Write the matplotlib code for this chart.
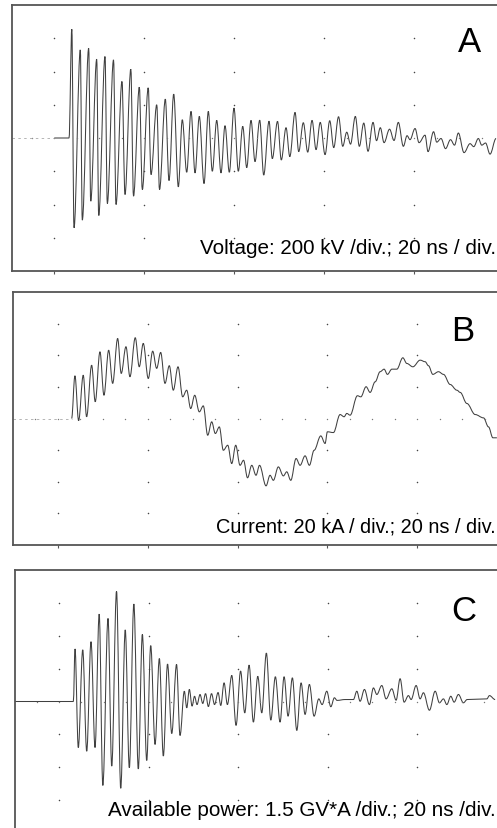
import matplotlib
matplotlib.use("Agg")
import matplotlib.pyplot as plt
from matplotlib.path import Path
from matplotlib.patches import PathPatch
import numpy as np

plt.rcParams['font.family'] = ['Liberation Sans', 'DejaVu Sans']

# Panel A: voltage trace (turning points), time in ns, voltage in kV
a_time_ns = [0.0, 3.27, 3.89, 4.38, 5.78, 6.22, 7.64, 8.09, 9.42, 9.87, 11.27, 11.78, 13.16, 13.71,
             15.04, 15.71, 17.0, 17.6, 18.89, 19.56, 20.87, 21.49, 22.76, 23.38, 24.67, 25.49,
             26.53, 27.56, 28.44, 29.42, 30.38, 31.27, 32.22, 33.27, 34.22, 35.11, 36.09, 37.04,
             37.93, 38.89, 39.93, 40.89, 41.87, 42.76, 43.71, 44.6, 45.64, 46.53, 47.71, 48.44,
             49.6, 50.44, 51.49, 52.33, 53.49, 54.31, 55.33, 56.31, 57.27, 58.16, 59.09, 60.16,
             61.2, 62.09, 63.16, 64.09, 64.98, 65.82, 66.89, 67.78, 68.76, 69.71, 70.82, 71.6,
             72.44, 73.27, 74.49, 75.49, 76.44, 77.56, 78.38, 79.04, 80.16, 81.04, 82.38, 83.04,
             84.27, 84.98, 85.93, 86.93, 88.04, 88.93, 89.78, 91.04, 92.38, 93.2, 94.22, 94.98,
             95.82, 96.82, 98.16]
a_voltage_kv = [0, 0, 654, -540, 530, -494, 540, -380, 474, -466, 490, -394, 470, -400,
                340, -340, 414, -350, 306, -310, 302, -220, 200, -310, 234, -256,
                264, -294, 110, -206, 160, -210, 130, -274, 160, -200, 106, -210,
                74, -206, 180, -200, 70, -178, 106, -142, 107, -223, 101, -124,
                100, -132, 62, -112, 154, -82, 92, -85, 106, -70, 94, -100,
                104, -58, 128, -50, 35, -37, 130, -50, 90, -80, 94, -16,
                62, -28, 53, -15, 94, -50, 14, -10, 57, -28, 17, -82,
                38, -25, -3, -64, -10, -43, 30, -88, -34, -52, -3, -43,
                -30, -97, -3]

# Panel B: current trace, kA
b_time_ns = [3.05, 3.79, 4.61, 5.64, 6.39, 7.51, 8.31, 9.36, 10.25, 11.3, 12.19, 13.3, 14.1,
             15.15, 16.04, 17.22, 18.11, 19.0, 20.12, 21.1, 21.99, 22.88, 23.84, 24.8, 25.69,
             26.74, 27.78, 28.67, 29.57, 30.46, 31.48, 32.37, 33.35, 34.24, 35.05, 35.94, 36.83,
             37.81, 38.7, 39.59, 40.55, 41.33, 42.22, 43.16, 44.11, 44.89, 46.34, 47.23, 47.97,
             49.08, 50.2, 50.95, 51.85, 53.03, 53.92, 55.03, 55.99, 57.04, 58.53, 59.49, 60.0,
             61.34, 62.83, 63.72, 64.32, 65.06, 66.69, 67.44, 68.62, 69.51, 70.63, 71.74, 72.63,
             73.37, 74.35, 75.46, 76.8, 77.69, 79.03, 80.65, 81.77, 82.5, 83.48, 84.73, 85.85,
             87.34, 88.83, 89.57, 91.06, 92.91, 94.76, 95.87, 96.85, 97.74]
b_current_ka = [0, 27.0, -1.3, 27.4, 1.1, 33.7, 10.6, 42.2, 14.7, 43.2, 22.2, 50.6, 28.5,
                45.4, 26.4, 51.1, 32.7, 47.5, 25.3, 42.6, 31.7, 41.8, 22.2, 33.4, 17.9,
                32.7, 13.7, 17.9, 6.3, 14.7, 4.2, 8.0, -10.6, -2.1, -9.5, -5.3, -20.1,
                -16.9, -28.5, -16.9, -29.6, -26.4, -37.5, -29.6, -35.9, -29.6, -42.6, -35.9, -39.1,
                -30.6, -36.3, -33.7, -39.1, -25.3, -29.6, -23.6, -29.6, -20.1, -11.0, -15.8, -8.4,
                -8.9, 2.5, 1.1, 3.2, 2.1, 14.4, 13.7, 20.1, 16.5, 23.2, 29.6, 31.2,
                27.9, 31.2, 31.2, 38.4, 34.8, 32.7, 36.9, 35.9, 33.4, 27.9, 29.6, 27.9,
                21.5, 17.9, 16.5, 9.5, 2.5, 0.4, -5.3, -12.2, -12.2]

# Panel C: available power, GV*A
c_time_ns = [-9.9, 3.2, 3.58, 4.31, 5.30, 6.19, 7.15, 8.05, 8.98, 9.79, 10.95, 11.78, 12.85,
             13.79, 14.8, 15.71, 16.72, 17.72, 18.62, 19.6, 20.49, 21.46, 22.42, 23.31, 24.25,
             25.19, 26.26, 27.04, 28.0, 28.54, 29.12, 29.73, 30.28, 30.84, 31.51, 32.12, 32.74,
             33.37, 34.08, 34.75, 35.54, 36.14, 36.88, 37.62, 38.6, 39.56, 40.57, 41.5, 42.47,
             43.43, 44.41, 45.3, 46.33, 47.32, 48.34, 49.39, 50.29, 51.18, 52.14, 53.13, 54.09,
             54.98, 55.94, 56.99, 58.04, 58.78, 59.83, 60.73, 61.53, 62.13, 63.92, 65.78, 66.54,
             67.27, 68.24, 69.35, 70.25, 71.01, 72.12, 73.08, 74.36, 75.32, 76.21, 77.11, 78.07,
             78.67, 79.79, 80.68, 81.42, 82.76, 84.04, 85.0, 85.89, 86.65, 87.54, 88.28, 89.24,
             90.36, 91.19, 95.59, 96.17, 97.44]
c_power_gw = [0, 0, 2.40, -2.10, 2.36, -2.27, 2.73, -2.10, 3.99, -3.83, 3.79, -2.95, 5.03,
              -3.96, 3.27, -3.02, 4.45, -3.08, 3.06, -2.69, 2.55, -1.96, 1.96, -2.49, 1.71,
              -1.46, 1.69, -1.55, 0.47, -0.29, 0.55, -0.21, 0.24, -0.14, 0.32, -0.09, 0.36,
              -0.23, 0.36, -0.14, 0.41, -0.18, 0.85, -0.14, 1.19, -1.09, 1.39, -0.52, 1.66,
              -0.94, 1.15, -0.52, 2.21, -0.85, 1.13, -0.94, 1.13, -0.67, 1.08, -1.32, 0.85,
              -0.59, 0.78, -0.67, 0.12, -0.14, 0.47, -0.24, 0.17, 0.05, 0.09, 0.09, 0.47,
              0.01, 0.55, -0.14, 0.62, 0.32, 0.73, 0.12, 0.58, 0.06, 1.04, -0.03, 0.27,
              0.09, 0.73, 0.12, 0.40, -0.40, 0.47, -0.06, 0.12, -0.14, 0.24, -0.03, 0.32,
              -0.06, 0.09, 0.12, 0.27, 0.09]

grid_times = [0, 20, 40, 60, 80]

fig = plt.figure(figsize=(4.97, 8.29), dpi=100)
W, H = 497.0, 829.0


def trace_path(t, y):
    # smooth curve through the turning points (flat tangent at each one)
    verts = [(t[0], y[0])]
    codes = [Path.MOVETO]
    for i in range(1, len(t)):
        dt = t[i] - t[i - 1]
        verts += [(t[i - 1] + dt * 0.36, y[i - 1]), (t[i] - dt * 0.36, y[i]), (t[i], y[i])]
        codes += [Path.CURVE4] * 3
    return Path(verts, codes)


def draw_panel(left, top, bottom, t, y, per_div, xlim, pre_trigger):
    # axes run past the right edge of the picture, like the cropped scope screens
    ax = fig.add_axes([left / W, 1 - bottom / H, (503 - left) / W, (bottom - top) / H])
    ax.set_xlim(xlim)
    ax.set_ylim(-4 * per_div, 4 * per_div)

    rows = [k * per_div for k in (-3, -2, -1, 1, 2, 3)]
    gx, gy = np.meshgrid(grid_times, rows)
    ax.plot(gx.ravel(), gy.ravel(), ls='none', marker='o', ms=1.1, mew=0, color='#444444')
    center = np.arange(-5, xlim[1], 5)
    ax.plot(center, np.zeros_like(center), ls='none', marker='o', ms=1.0, mew=0, color='#777777')

    if pre_trigger:
        ax.plot([xlim[0], t[0]], [0, 0], ls=(0, (3, 4)), lw=0.6, color='#aaaaaa')

    ax.add_patch(PathPatch(trace_path(t, y), facecolor='none', edgecolor='#404040', lw=0.75))

    for s in ax.spines.values():
        s.set_color('#555555')
        s.set_linewidth(1.3)
    ax.set_yticks([])
    ax.set_xticks(grid_times)
    ax.tick_params(axis='x', direction='out', length=2.5, width=0.8, color='#555555',
                   labelbottom=False)
    return ax


draw_panel(12, 6, 272, a_time_ns, a_voltage_kv, 200, (-9.4, 99.7), True)
draw_panel(13, 293, 546, b_time_ns, b_current_ka, 20, (-10.0, 99.1), True)
draw_panel(14.7, 571, 834, c_time_ns, c_power_gw, 1.5, (-9.9, 99.2), False)

fig.text(470 / W, 1 - 43 / H, "A", fontsize=25, ha='center', va='center')
fig.text(463 / W, 1 - 332 / H, "B", fontsize=25, ha='center', va='center')
fig.text(464 / W, 1 - 612 / H, "C", fontsize=25, ha='center', va='center')

fig.text(496 / W, 1 - 254.5 / H, "Voltage: 200 kV /div.; 20 ns / div.", fontsize=14.9,
         ha='right', va='baseline')
fig.text(496 / W, 1 - 532.5 / H, "Current: 20 kA / div.; 20 ns / div.", fontsize=14.4,
         ha='right', va='baseline')
fig.text(496 / W, 1 - 816.5 / H, "Available power: 1.5 GV*A /div.; 20 ns /div.", fontsize=14.9,
         ha='right', va='baseline')

fig.savefig("out.png", dpi=100)
